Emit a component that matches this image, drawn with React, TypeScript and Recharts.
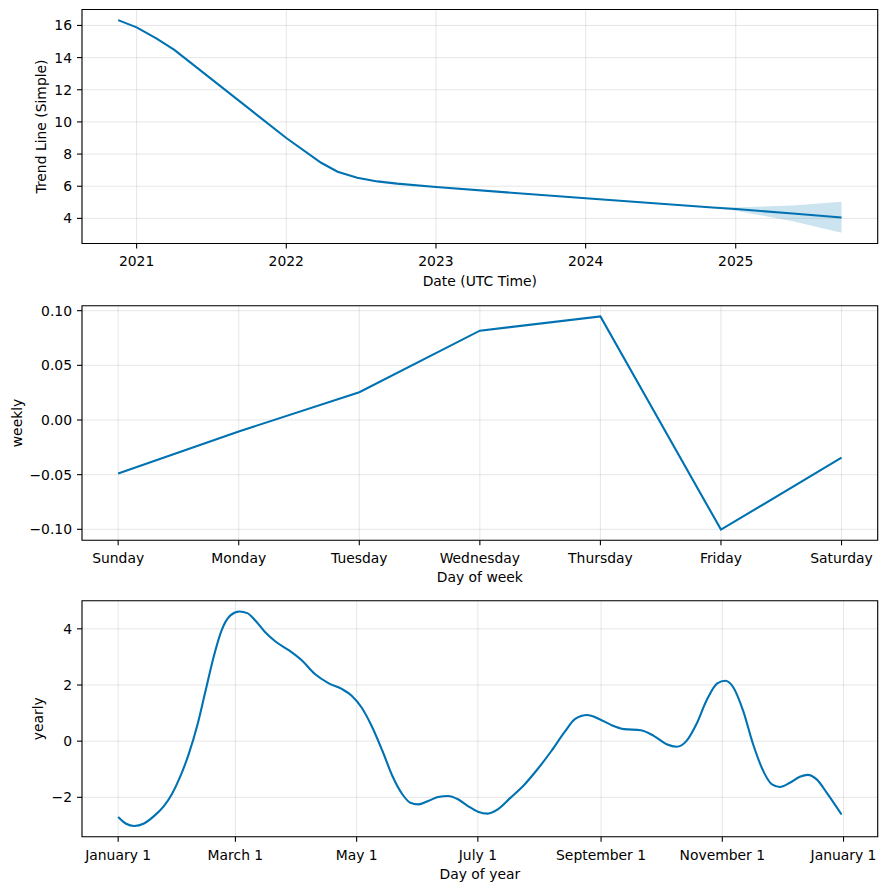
import {
  ComposedChart,
  LineChart,
  Line,
  Area,
  XAxis,
  YAxis,
  CartesianGrid,
  ReferenceArea,
} from 'recharts'

// trend component (dates in UTC)
const trendDates = [
  '2020-11-17', '2021-01-01', '2021-02-18', '2021-04-03', '2022-01-01', '2022-03-27',
  '2022-05-06', '2022-06-23', '2022-08-11', '2022-09-28', '2023-01-01', '2024-01-01',
  '2024-11-05', '2025-01-01', '2025-05-20', '2025-09-16',
]
const trendValues = [16.33, 15.88, 15.2, 14.48, 9.0, 7.46, 6.9, 6.53, 6.3, 6.16, 5.95, 5.25, 4.68, 4.58, 4.3, 4.06]
const trendLower = [null, null, null, null, null, null, null, null, null, null, null, null, 4.68, 4.48, 3.82, 3.1]
const trendUpper = [null, null, null, null, null, null, null, null, null, null, null, null, 4.68, 4.68, 4.8, 5.03]
const yearTicks = [2021, 2022, 2023, 2024, 2025]
const trendYTicks = [4, 6, 8, 10, 12, 14, 16]

// weekly component
const weekDays = ['Sunday', 'Monday', 'Tuesday', 'Wednesday', 'Thursday', 'Friday', 'Saturday']
const weeklyValues = [-0.049, -0.0105, 0.0254, 0.0817, 0.0948, -0.1003, -0.0345]
const weeklyYTicks = [-0.1, -0.05, 0, 0.05, 0.1]

// yearly component (day of year)
const yearDays = [
  0, 4, 8, 13, 18, 23, 27, 31, 35.5, 40, 44, 48, 52, 56.5, 61, 65, 69, 74, 79, 86,
  92.5, 99, 106, 112.5, 117.5, 122.5, 127.5, 133, 138, 143, 147, 151, 156, 161, 166, 171, 176, 181, 186, 191,
  197.5, 204.5, 211, 218, 224.5, 230, 236, 242, 248, 254.5, 263, 269.5, 276, 281, 286, 291, 296, 301.5, 305.5, 309.5,
  314.5, 319.5, 325, 329, 333, 338, 343, 347, 351.5, 356.5, 364,
]
const yearlyValues = [
  -2.7, -2.94, -3.02, -2.93, -2.67, -2.31, -1.89, -1.3, -0.46, 0.61, 1.8, 2.99, 3.94, 4.48, 4.62, 4.56, 4.3, 3.88, 3.56, 3.23,
  2.87, 2.39, 2.06, 1.86, 1.62, 1.2, 0.55, -0.35, -1.24, -1.89, -2.19, -2.25, -2.13, -1.99, -1.95, -2.07, -2.31, -2.51, -2.58, -2.43,
  -2.01, -1.54, -1.0, -0.35, 0.31, 0.79, 0.93, 0.79, 0.58, 0.43, 0.39, 0.19, -0.11, -0.2, 0.01, 0.61, 1.44, 2.06, 2.15, 1.92,
  1.08, -0.11, -1.12, -1.54, -1.63, -1.48, -1.27, -1.2, -1.36, -1.83, -2.61,
]
const monthTicks = [0, 59, 120, 181, 243, 304, 365]
const monthLabels = ['January 1', 'March 1', 'May 1', 'July 1', 'September 1', 'November 1', 'January 1']
const yearlyYTicks = [-2, 0, 2, 4]

const BLUE = '#0072B2'
const FONT = 'DejaVu Sans'
const FS = 13.9

const toTs = (d: string) => new Date(d + 'T00:00:00Z').getTime()

// matplotlib style 5% margins
const pad = (lo: number, hi: number) => {
  const m = (hi - lo) * 0.05
  return [lo - m, hi + m]
}

const trendData = trendDates.map((d, i) => ({
  t: toTs(d),
  trend: trendValues[i],
  band: trendLower[i] == null ? null : [trendLower[i], trendUpper[i]],
}))
const weeklyData = weekDays.map((d, i) => ({ x: i, weekly: weeklyValues[i] }))
const yearlyData = yearDays.map((d, i) => ({ x: d, yearly: yearlyValues[i] }))

const tTicks = yearTicks.map((y) => Date.UTC(y, 0, 1))
const tDomain = pad(trendData[0].t, trendData[trendData.length - 1].t)
const trendAll = [...trendValues, ...(trendLower.filter((v) => v != null) as number[]), ...(trendUpper.filter((v) => v != null) as number[])]
const trendYDomain = pad(Math.min(...trendAll), Math.max(...trendAll))
const weekXDomain = [-0.3, 6.3]
const weeklyYDomain = pad(Math.min(...weeklyValues), Math.max(...weeklyValues))
const yearXDomain = pad(0, 364)
const yearlyYDomain = pad(Math.min(...yearlyValues), Math.max(...yearlyValues))

const minus = (s: string) => s.replace('-', '\u2212')

const tickStyle = { fontSize: FS, fontFamily: FONT, fill: '#000' }
const tickLine = { stroke: '#000', strokeWidth: 1.1 }

const yLabel = (text: string, x: number) => (props: any) => {
  const vb = props.viewBox
  const cy = vb.y + vb.height / 2
  return (
    <text
      x={x}
      y={cy}
      transform={`rotate(-90 ${x} ${cy})`}
      textAnchor="middle"
      dominantBaseline="central"
      fontSize={FS}
      fontFamily={FONT}
      fill="#000"
    >
      {text}
    </text>
  )
}

const xLabel = (text: string) => (props: any) => {
  const vb = props.viewBox
  return (
    <text
      x={vb.x + vb.width / 2}
      y={vb.y + 37}
      textAnchor="middle"
      dominantBaseline="central"
      fontSize={FS}
      fontFamily={FONT}
      fill="#000"
    >
      {text}
    </text>
  )
}

// black box round the plot area, like matplotlib spines
const frame = (xd: number[], yd: number[]) => (
  <ReferenceArea
    x1={xd[0]}
    x2={xd[1]}
    y1={yd[0]}
    y2={yd[1]}
    fill="none"
    fillOpacity={0}
    stroke="#000"
    strokeWidth={1.1}
    ifOverflow="visible"
  />
)

const margin = { top: 9.5, right: 8.3, bottom: 0, left: 0 }

export default function App() {
  return (
    <div style={{ position: 'absolute', left: 0, top: 0, width: 886, height: 889, background: '#fff' }}>
      <div style={{ position: 'absolute', left: 0, top: 0 }}>
        <ComposedChart width={886} height={296} data={trendData} margin={margin}>
          <CartesianGrid stroke="#808080" strokeOpacity={0.2} strokeWidth={1} />
          <XAxis
            dataKey="t"
            type="number"
            domain={tDomain}
            ticks={tTicks}
            allowDataOverflow
            tickFormatter={(v) => String(new Date(v).getUTCFullYear())}
            tick={tickStyle}
            tickLine={tickLine}
            tickSize={5}
            tickMargin={8}
            axisLine={false}
            height={52.5}
            label={xLabel('Date (UTC Time)')}
          />
          <YAxis
            type="number"
            domain={trendYDomain}
            ticks={trendYTicks}
            allowDataOverflow
            tick={tickStyle}
            tickLine={tickLine}
            tickSize={5}
            tickMargin={5}
            axisLine={false}
            width={82}
            label={yLabel('Trend Line (Simple)', 41)}
          />
          <Area
            dataKey="band"
            type="linear"
            stroke="none"
            fill={BLUE}
            fillOpacity={0.2}
            isAnimationActive={false}
            connectNulls={false}
            activeDot={false}
          />
          <Line dataKey="trend" type="linear" stroke={BLUE} strokeWidth={2.1} dot={false} isAnimationActive={false} />
          {frame(tDomain, trendYDomain)}
        </ComposedChart>
      </div>
      <div style={{ position: 'absolute', left: 0, top: 296 }}>
        <LineChart width={886} height={296} data={weeklyData} margin={{ ...margin, top: 9.7 }}>
          <CartesianGrid stroke="#808080" strokeOpacity={0.2} strokeWidth={1} />
          <XAxis
            dataKey="x"
            type="number"
            domain={weekXDomain}
            ticks={[0, 1, 2, 3, 4, 5, 6]}
            allowDataOverflow
            tickFormatter={(v) => weekDays[v]}
            tick={tickStyle}
            tickLine={tickLine}
            tickSize={5}
            tickMargin={8}
            axisLine={false}
            height={51.7}
            label={xLabel('Day of week')}
          />
          <YAxis
            type="number"
            domain={weeklyYDomain}
            ticks={weeklyYTicks}
            allowDataOverflow
            tickFormatter={(v) => minus(Number(v).toFixed(2))}
            tick={tickStyle}
            tickLine={tickLine}
            tickSize={5}
            tickMargin={5}
            axisLine={false}
            width={82}
            label={yLabel('weekly', 17)}
          />
          <Line dataKey="weekly" type="linear" stroke={BLUE} strokeWidth={2.1} dot={false} isAnimationActive={false} />
          {frame(weekXDomain, weeklyYDomain)}
        </LineChart>
      </div>
      <div style={{ position: 'absolute', left: 0, top: 591 }}>
        <LineChart width={886} height={298} data={yearlyData} margin={{ ...margin, top: 9.7 }}>
          <CartesianGrid stroke="#808080" strokeOpacity={0.2} strokeWidth={1} />
          <XAxis
            dataKey="x"
            type="number"
            domain={yearXDomain}
            ticks={monthTicks}
            allowDataOverflow
            tickFormatter={(v) => monthLabels[monthTicks.indexOf(v)]}
            tick={tickStyle}
            tickLine={tickLine}
            tickSize={5}
            tickMargin={8}
            axisLine={false}
            height={52.3}
            label={xLabel('Day of year')}
          />
          <YAxis
            type="number"
            domain={yearlyYDomain}
            ticks={yearlyYTicks}
            allowDataOverflow
            tickFormatter={(v) => minus(String(v))}
            tick={tickStyle}
            tickLine={tickLine}
            tickSize={5}
            tickMargin={5}
            axisLine={false}
            width={82}
            label={yLabel('yearly', 38)}
          />
          <Line dataKey="yearly" type="monotone" stroke={BLUE} strokeWidth={2.1} dot={false} isAnimationActive={false} />
          {frame(yearXDomain, yearlyYDomain)}
        </LineChart>
      </div>
    </div>
  )
}
